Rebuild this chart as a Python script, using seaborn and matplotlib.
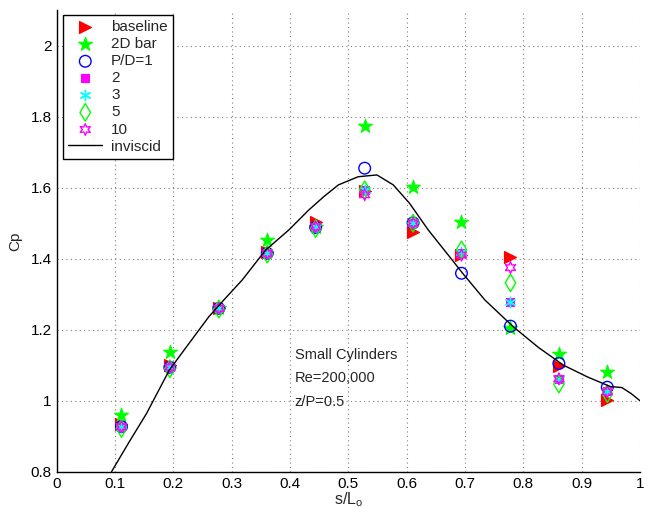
import matplotlib
matplotlib.use("Agg")
import matplotlib.pyplot as plt
import matplotlib.ticker as mtick
import pandas as pd
import seaborn as sns

# station positions along the surface
s_pos = [0.111, 0.194, 0.278, 0.361, 0.444, 0.528, 0.611, 0.694, 0.778, 0.861, 0.944]

cp_baseline = [0.935, 1.100, 1.260, 1.420, 1.504, 1.590, 1.474, 1.410, 1.404, 1.098, 1.002]
cp_2dbar = [0.960, 1.138, 1.262, 1.453, 1.490, 1.774, 1.601, 1.504, 1.205, 1.133, 1.082]
cp_pd1 = [0.927, 1.094, 1.260, 1.415, 1.488, 1.655, 1.501, 1.359, 1.210, 1.105, 1.038]
cp_pd2 = [0.927, 1.094, 1.260, 1.415, 1.490, 1.594, 1.500, 1.415, 1.277, 1.062, 1.028]
cp_pd3 = [0.927, 1.094, 1.260, 1.415, 1.490, 1.594, 1.500, 1.420, 1.277, 1.062, 1.028]
cp_pd5 = [0.922, 1.090, 1.258, 1.413, 1.485, 1.594, 1.500, 1.425, 1.332, 1.047, 1.020]
cp_pd10 = [0.927, 1.094, 1.260, 1.415, 1.490, 1.580, 1.500, 1.410, 1.375, 1.062, 1.025]

inviscid_s = [0.094, 0.125, 0.154, 0.193, 0.228, 0.261, 0.29, 0.318, 0.358, 0.398,
              0.432, 0.458, 0.483, 0.517, 0.549, 0.577, 0.605, 0.637, 0.671, 0.696,
              0.734, 0.783, 0.826, 0.869, 0.91, 0.949, 0.969, 0.985, 1.0]
inviscid_cp = [0.80, 0.886, 0.964, 1.086, 1.164, 1.237, 1.29, 1.340, 1.424, 1.481,
               1.537, 1.575, 1.608, 1.631, 1.636, 1.608, 1.556, 1.481, 1.411, 1.359,
               1.284, 1.208, 1.150, 1.100, 1.067, 1.040, 1.037, 1.020, 1.0]

series_labels = ["baseline", "2D bar", "P/D=1", "2", "3", "5", "10"]
series_values = [cp_baseline, cp_2dbar, cp_pd1, cp_pd2, cp_pd3, cp_pd5, cp_pd10]

# marker, colour, filled, size
styles = {
    "baseline": (">", "#ff0000", True, 75),
    "2D bar": ("*", "#00ff00", True, 110),
    "P/D=1": ("o", "#0000ff", False, 70),
    "2": ("s", "#ff00ff", True, 40),
    "3": ((6, 2, 0), "#00ffff", False, 55),
    "5": ("d", "#00ff00", False, 80),
    "10": ((6, 1, 0), "#ff00ff", False, 70),
}

sns.set_style("white")
plt.rcParams["font.family"] = ["Liberation Sans", "DejaVu Sans"]
plt.rcParams["mathtext.fontset"] = "custom"
plt.rcParams["mathtext.rm"] = "Liberation Sans"
plt.rcParams["mathtext.it"] = "Liberation Sans"

fig = plt.figure(figsize=(6.45, 5.08), dpi=100, facecolor="white")
ax = fig.add_axes([0.0879, 0.0714, 0.9043, 0.9085])

df = pd.DataFrame({"s": s_pos})
for label, vals in zip(series_labels, series_values):
    df[label] = vals

for label in series_labels:
    mk, col, filled, size = styles[label]
    if filled:
        sns.scatterplot(ax=ax, data=df, x="s", y=label, marker=mk, color=col,
                        s=size, edgecolor=col, linewidth=0.8, label=label, zorder=3)
    elif isinstance(mk, tuple) and mk[1] == 2:
        ax.scatter(df["s"], df[label], marker=mk, color=col, s=size,
                   linewidths=1.0, label=label, zorder=3)
    else:
        sns.scatterplot(ax=ax, data=df, x="s", y=label, marker=mk, s=size,
                        facecolor="none", edgecolor=col, linewidth=1.0,
                        label=label, zorder=3)

sns.lineplot(ax=ax, x=inviscid_s, y=inviscid_cp, color="black", linewidth=1.0,
             sort=False, estimator=None, label="inviscid", zorder=4)

ax.set_xlim(0, 1)
ax.set_ylim(0.8, 2.1)
ax.xaxis.set_major_locator(mtick.MultipleLocator(0.1))
ax.yaxis.set_major_locator(mtick.FixedLocator([0.8, 1.0, 1.2, 1.4, 1.6, 1.8, 2.0]))
ax.xaxis.set_major_formatter(mtick.FormatStrFormatter("%g"))
ax.yaxis.set_major_formatter(mtick.FormatStrFormatter("%g"))
ax.tick_params(direction="in", length=4, width=0.8, labelsize=11, colors="black")
ax.grid(True, color="#808080", linestyle=":", linewidth=0.8, dashes=(1, 3))

for s in ["top", "right"]:
    ax.spines[s].set_visible(False)
for s in ["left", "bottom"]:
    ax.spines[s].set_color("black")
    ax.spines[s].set_linewidth(1.0)

ax.set_xlabel("s/L$_\\mathrm{o}$", fontsize=11.5, labelpad=0)
ax.set_ylabel("Cp", fontsize=11, labelpad=6)

ax.text(0.408, 1.129, "Small Cylinders", fontsize=10.5, va="center")
ax.text(0.408, 1.063, "Re=200,000", fontsize=10.5, va="center")
ax.text(0.408, 0.996, "z/P=0.5", fontsize=10.5, va="center")

leg = ax.legend(loc="upper left", bbox_to_anchor=(0.011, 0.99), fontsize=11,
                frameon=True, fancybox=False, edgecolor="black", framealpha=1,
                labelspacing=0.2, handlelength=2.2, borderpad=0.35,
                handletextpad=0.6, borderaxespad=0)
leg.get_frame().set_linewidth(1.0)

fig.savefig("out.png", dpi=100)
